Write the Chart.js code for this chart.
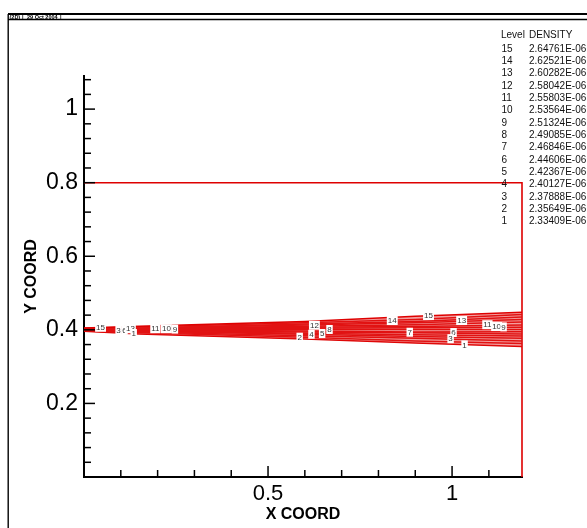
<!DOCTYPE html>
<html>
<head>
<meta charset="utf-8" />
<title>DENSITY contours</title>
<script src="https://cdn.jsdelivr.net/npm/chart.js"></script>
<style>
    html, body { margin: 0; padding: 0; background: #fff; }
</style>
</head>
<body>
<canvas id="myChart" width="587" height="528"></canvas>

<script>
    // contour levels and their DENSITY values (legend)
    const levels = ['15', '14', '13', '12', '11', '10', '9', '8', '7', '6', '5', '4', '3', '2', '1'];
    const levelValues = ['2.64761E-06', '2.62521E-06', '2.60282E-06', '2.58042E-06', '2.55803E-06',
        '2.53564E-06', '2.51324E-06', '2.49085E-06', '2.46846E-06', '2.44606E-06',
        '2.42367E-06', '2.40127E-06', '2.37888E-06', '2.35649E-06', '2.33409E-06'];

    const xStations = [0, 0.15, 0.6, 0.9, 1.19];
    const line15 = [0.405, 0.410, 0.423, 0.437, 0.448];
    const line14 = [0.404, 0.408, 0.419, 0.428, 0.442];
    const line13 = [0.403, 0.405, 0.416, 0.423, 0.435];
    const line12 = [0.402, 0.404, 0.413, 0.419, 0.428];
    const line11 = [0.402, 0.403, 0.410, 0.414, 0.421];
    const line10 = [0.401, 0.403, 0.407, 0.409, 0.413];
    const line9  = [0.401, 0.402, 0.404, 0.406, 0.407];
    const line8  = [0.400, 0.401, 0.401, 0.401, 0.401];
    const line7  = [0.400, 0.400, 0.397, 0.394, 0.395];
    const line6  = [0.400, 0.398, 0.394, 0.392, 0.389];
    const line5  = [0.399, 0.397, 0.391, 0.387, 0.383];
    const line4  = [0.399, 0.396, 0.388, 0.382, 0.377];
    const line3  = [0.398, 0.394, 0.384, 0.377, 0.370];
    const line2  = [0.397, 0.392, 0.380, 0.370, 0.363];
    const line1  = [0.396, 0.389, 0.375, 0.364, 0.355];
    const contourLines = [line15, line14, line13, line12, line11, line10, line9, line8,
        line7, line6, line5, line4, line3, line2, line1];

    // domain boundary (red box)
    const boundaryX = [0, 1.19, 1.19];
    const boundaryY = [0.8, 0.8, 0];

    // contour line labels
    const labelText = ['15', '3', '6', '13', '1', '11', '10', '9', '2', '4', '5', '12', '8',
        '14', '7', '15', '13', '11', '10', '9', '6', '3', '1'];
    const labelX = [0.045, 0.094, 0.110, 0.126, 0.135, 0.194, 0.224, 0.247, 0.586, 0.618, 0.647, 0.626, 0.667,
        0.8375, 0.885, 0.936, 1.026, 1.096, 1.121, 1.140, 1.004, 0.996, 1.034];
    const labelY = [0.407, 0.399, 0.399, 0.403, 0.390, 0.403, 0.403, 0.402, 0.380, 0.388, 0.390, 0.4125, 0.401,
        0.4253, 0.3935, 0.4388, 0.4253, 0.414, 0.409, 0.408, 0.3927, 0.376, 0.359];

    // axis ticks
    const xMajorTicks = [0.5, 1];
    const xMinorTicks = [0.1, 0.2, 0.3, 0.4, 0.6, 0.7, 0.8, 0.9, 1.1];
    const yMajorTicks = [0.2, 0.4, 0.6, 0.8, 1];
    const yMinorTicks = [0.04, 0.08, 0.12, 0.16, 0.24, 0.28, 0.32, 0.36, 0.44, 0.48, 0.52, 0.56,
        0.64, 0.68, 0.72, 0.76, 0.84, 0.88, 0.92, 0.96, 1.04, 1.08];

    const red = 'rgb(222, 0, 0)';

    const datasets = contourLines.map(function (ys, i) {
        return {
            label: 'Level ' + levels[i],
            data: xStations.map(function (x, j) { return { x: x, y: ys[j] }; }),
            borderColor: red,
            borderWidth: 1.5,
            pointRadius: 0,
            showLine: true,
            tension: 0,
            clip: 4,
            // light red between the outer contours (Tecplot's dense lines)
            fill: i === 0 ? 14 : false,
            backgroundColor: 'rgba(228, 40, 40, 0.45)'
        };
    });
    datasets.push({
        label: 'boundary',
        data: boundaryX.map(function (x, j) { return { x: x, y: boundaryY[j] }; }),
        borderColor: red,
        borderWidth: 1.6,
        pointRadius: 0,
        showLine: true,
        fill: false,
        clip: 4
    });

    const tecplotFrame = {
        id: 'tecplotFrame',
        beforeDraw(chart) {
            const ctx = chart.ctx;
            ctx.save();
            ctx.fillStyle = '#fff';
            ctx.fillRect(0, 0, chart.width, chart.height);
            ctx.strokeStyle = '#000';
            ctx.lineWidth = 2;
            ctx.beginPath(); ctx.moveTo(8, 14); ctx.lineTo(587, 14); ctx.stroke();
            ctx.lineWidth = 1.4;
            ctx.beginPath(); ctx.moveTo(8, 19.5); ctx.lineTo(587, 19.5); ctx.stroke();
            ctx.beginPath(); ctx.moveTo(8.2, 14); ctx.lineTo(8.2, 528); ctx.stroke();
            ctx.fillStyle = '#000';
            ctx.font = 'bold 5.5px Arial, "Liberation Sans"';
            ctx.textBaseline = 'middle';
            ctx.fillText('(2D)', 9.5, 17);
            ctx.fillText('|', 22, 17);
            ctx.fillText('29 Oct 2004', 27, 17);
            ctx.fillText('|', 60, 17);
            ctx.restore();
        },
        afterDatasetsDraw(chart) {
            const ctx = chart.ctx;
            const xs = chart.scales.x, ys = chart.scales.y;
            ctx.save();
            ctx.font = '8px Arial, "Liberation Sans"';
            ctx.textAlign = 'center';
            ctx.textBaseline = 'middle';
            labelText.forEach(function (t, i) {
                const px = xs.getPixelForValue(labelX[i]);
                const py = ys.getPixelForValue(labelY[i]);
                const w = ctx.measureText(t).width + 2;
                ctx.fillStyle = '#fff';
                ctx.fillRect(px - w / 2, py - 4.5, w, 9);
                ctx.fillStyle = '#333';
                ctx.fillText(t, px, py + 0.5);
            });
            ctx.restore();
        },
        afterDraw(chart) {
            const ctx = chart.ctx;
            const area = chart.chartArea;
            const xs = chart.scales.x, ys = chart.scales.y;
            ctx.save();
            ctx.strokeStyle = '#000';
            ctx.lineWidth = 1.5;
            function tickY(v, len) {
                const p = ys.getPixelForValue(v);
                ctx.beginPath(); ctx.moveTo(area.left, p); ctx.lineTo(area.left + len, p); ctx.stroke();
            }
            function tickX(v, len) {
                const p = xs.getPixelForValue(v);
                ctx.beginPath(); ctx.moveTo(p, area.bottom); ctx.lineTo(p, area.bottom - len); ctx.stroke();
            }
            yMajorTicks.forEach(function (v) { tickY(v, 11); });
            yMinorTicks.forEach(function (v) { tickY(v, 7); });
            xMajorTicks.forEach(function (v) { tickX(v, 11); });
            xMinorTicks.forEach(function (v) { tickX(v, 7); });

            // contour level legend
            ctx.fillStyle = '#111';
            ctx.font = '10px Arial, "Liberation Sans"';
            ctx.textBaseline = 'middle';
            ctx.fillText('Level', 501, 35);
            ctx.fillText('DENSITY', 529, 35);
            levels.forEach(function (lv, i) {
                const y = 49 + i * 12.33;
                ctx.fillText(lv, 501.5, y);
                ctx.fillText(levelValues[i], 529, y);
            });
            ctx.restore();
        }
    };

    function plainLabel(v) { return String(v); }

    const config = {
        type: 'scatter',
        data: { datasets: datasets },
        options: {
            responsive: false,
            animation: false,
            devicePixelRatio: 1,
            layout: { padding: { top: 76, right: 65, left: 0, bottom: 0 } },
            plugins: { legend: { display: false }, tooltip: { enabled: false } },
            scales: {
                x: {
                    type: 'linear',
                    min: 0,
                    max: 1.19,
                    afterFit: function (s) { s.height = 51; },
                    afterBuildTicks: function (s) { s.ticks = xMajorTicks.map(function (v) { return { value: v }; }); },
                    grid: { display: false, drawTicks: false },
                    border: { display: true, color: '#000', width: 2 },
                    ticks: { color: '#000', padding: 4, callback: plainLabel, font: { family: 'Arial, "Liberation Sans"', size: 22 } },
                    title: {
                        display: true, text: 'X COORD', color: '#000',
                        font: { family: 'Arial, "Liberation Sans"', size: 16, weight: 'bold' },
                        padding: { top: 0, bottom: 4 }
                    }
                },
                y: {
                    type: 'linear',
                    min: 0,
                    max: 1.09,
                    afterFit: function (s) { s.width = 84; },
                    afterBuildTicks: function (s) { s.ticks = yMajorTicks.map(function (v) { return { value: v }; }); },
                    grid: { display: false, drawTicks: false },
                    border: { display: true, color: '#000', width: 2 },
                    ticks: { color: '#000', padding: 6, callback: plainLabel, font: { family: 'Arial, "Liberation Sans"', size: 23 } },
                    title: {
                        display: true, text: 'Y COORD', color: '#000',
                        font: { family: 'Arial, "Liberation Sans"', size: 16, weight: 'bold' },
                        padding: { top: 22, bottom: 0 }
                    }
                }
            }
        },
        plugins: [tecplotFrame]
    };

    var myChart = new Chart(document.getElementById('myChart'), config);
</script>
</body>
</html>
